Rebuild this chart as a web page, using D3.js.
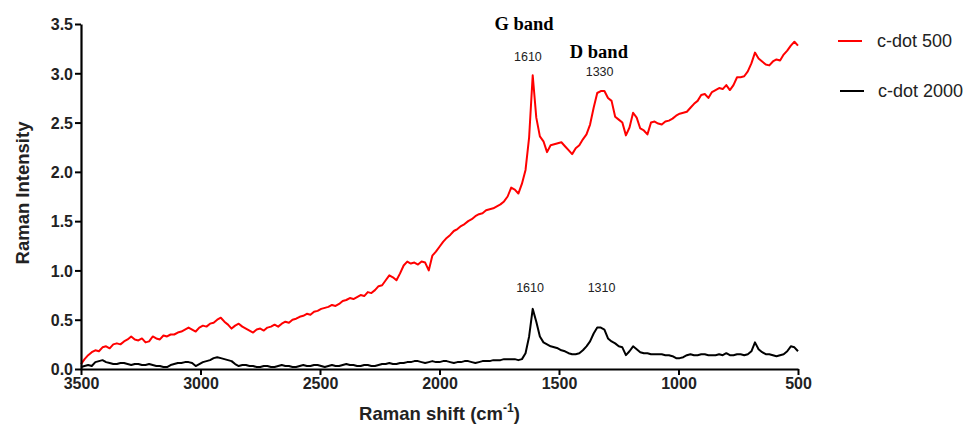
<!DOCTYPE html>
<html>
<head>
<meta charset="utf-8">
<script src="https://cdn.jsdelivr.net/npm/d3@7"></script>
<style>
  body { margin: 0; background: #fff; }
  svg { font-family: "Liberation Sans", Arial, sans-serif; }
</style>
</head>
<body>
<div id="chart"></div>
<script>
// Raman shift sampling points (cm-1), one row per 150 cm-1
const shifts = [
  3500, 3485, 3470, 3455, 3440, 3425, 3410, 3395, 3380, 3365,
  3350, 3335, 3320, 3305, 3290, 3275, 3260, 3245, 3230, 3215,
  3200, 3185, 3170, 3155, 3140, 3125, 3110, 3095, 3080, 3065,
  3050, 3035, 3020, 3005, 2990, 2975, 2960, 2945, 2930, 2915,
  2900, 2885, 2870, 2855, 2840, 2825, 2810, 2795, 2780, 2765,
  2750, 2735, 2720, 2705, 2690, 2675, 2660, 2645, 2630, 2615,
  2600, 2585, 2570, 2555, 2540, 2525, 2510, 2495, 2480, 2465,
  2450, 2435, 2420, 2405, 2390, 2375, 2360, 2345, 2330, 2315,
  2300, 2285, 2270, 2255, 2240, 2225, 2210, 2195, 2180, 2165,
  2150, 2135, 2120, 2105, 2090, 2075, 2060, 2045, 2030, 2015,
  2000, 1985, 1970, 1955, 1940, 1925, 1910, 1895, 1880, 1865,
  1850, 1835, 1820, 1805, 1790, 1775, 1760, 1745, 1730, 1715,
  1700, 1685, 1670, 1655, 1640, 1625, 1610, 1595, 1580, 1565,
  1550, 1535, 1520, 1505, 1490, 1475, 1460, 1445, 1430, 1415,
  1400, 1385, 1370, 1355, 1340, 1325, 1310, 1295, 1280, 1265,
  1250, 1235, 1220, 1205, 1190, 1175, 1160, 1145, 1130, 1115,
  1100, 1085, 1070, 1055, 1040, 1025, 1010, 995, 980, 965,
  950, 935, 920, 905, 890, 875, 860, 845, 830, 815,
  800, 785, 770, 755, 740, 725, 710, 695, 680, 665,
  650, 635, 620, 605, 590, 575, 560, 545, 530, 515,
  500];

// c-dot 500 intensities
const cdot500 = [
  0.05, 0.10, 0.14, 0.17, 0.19, 0.18, 0.22, 0.23, 0.21, 0.25,
  0.26, 0.25, 0.28, 0.30, 0.33, 0.30, 0.29, 0.31, 0.27, 0.28,
  0.33, 0.31, 0.30, 0.34, 0.33, 0.35, 0.35, 0.37, 0.38, 0.40,
  0.42, 0.40, 0.38, 0.42, 0.44, 0.43, 0.46, 0.47, 0.50, 0.52,
  0.48, 0.45, 0.41, 0.44, 0.46, 0.43, 0.41, 0.39, 0.37, 0.40,
  0.41, 0.39, 0.42, 0.43, 0.45, 0.43, 0.46, 0.48, 0.47, 0.50,
  0.51, 0.53, 0.54, 0.56, 0.55, 0.58, 0.59, 0.61, 0.62, 0.63,
  0.65, 0.64, 0.66, 0.69, 0.70, 0.72, 0.71, 0.73, 0.75, 0.74,
  0.78, 0.77, 0.80, 0.84, 0.85, 0.90, 0.95, 0.93, 0.90, 0.97,
  1.05, 1.09, 1.07, 1.08, 1.06, 1.09, 1.08, 1.00, 1.15, 1.19,
  1.24, 1.29, 1.33, 1.36, 1.40, 1.42, 1.45, 1.47, 1.50, 1.52,
  1.55, 1.57, 1.58, 1.61, 1.62, 1.63, 1.65, 1.67, 1.70, 1.75,
  1.84, 1.82, 1.78, 1.88, 2.02, 2.35, 2.98, 2.55, 2.36, 2.31,
  2.20, 2.27, 2.28, 2.29, 2.30, 2.26, 2.22, 2.18, 2.24, 2.27,
  2.33, 2.38, 2.48, 2.65, 2.80, 2.82, 2.82, 2.75, 2.72, 2.56,
  2.53, 2.50, 2.37, 2.45, 2.60, 2.55, 2.44, 2.42, 2.38, 2.50,
  2.51, 2.49, 2.48, 2.51, 2.52, 2.54, 2.57, 2.59, 2.60, 2.61,
  2.65, 2.69, 2.72, 2.78, 2.79, 2.75, 2.81, 2.83, 2.85, 2.84,
  2.88, 2.83, 2.88, 2.96, 2.96, 2.97, 3.02, 3.10, 3.21, 3.15,
  3.12, 3.09, 3.08, 3.12, 3.14, 3.13, 3.19, 3.23, 3.28, 3.32,
  3.28];

// c-dot 2000 intensities
const cdot2000 = [
  0.02, 0.03, 0.04, 0.03, 0.07, 0.08, 0.09, 0.07, 0.06, 0.05,
  0.05, 0.06, 0.06, 0.05, 0.04, 0.05, 0.05, 0.04, 0.04, 0.05,
  0.04, 0.03, 0.03, 0.02, 0.02, 0.04, 0.05, 0.06, 0.06, 0.07,
  0.07, 0.06, 0.03, 0.05, 0.07, 0.08, 0.09, 0.11, 0.12, 0.11,
  0.10, 0.09, 0.08, 0.05, 0.03, 0.04, 0.04, 0.03, 0.03, 0.02,
  0.02, 0.03, 0.03, 0.02, 0.02, 0.03, 0.04, 0.03, 0.03, 0.02,
  0.02, 0.03, 0.04, 0.03, 0.03, 0.04, 0.04, 0.03, 0.02, 0.03,
  0.04, 0.03, 0.03, 0.04, 0.05, 0.04, 0.04, 0.03, 0.03, 0.04,
  0.04, 0.03, 0.03, 0.04, 0.05, 0.05, 0.06, 0.05, 0.05, 0.06,
  0.06, 0.07, 0.07, 0.08, 0.08, 0.07, 0.06, 0.07, 0.08, 0.07,
  0.07, 0.08, 0.08, 0.07, 0.06, 0.07, 0.07, 0.08, 0.08, 0.07,
  0.06, 0.07, 0.08, 0.08, 0.08, 0.09, 0.09, 0.09, 0.10, 0.10,
  0.10, 0.10, 0.09, 0.10, 0.16, 0.33, 0.61, 0.48, 0.33, 0.27,
  0.25, 0.23, 0.22, 0.21, 0.19, 0.18, 0.16, 0.15, 0.15, 0.16,
  0.19, 0.23, 0.28, 0.36, 0.42, 0.42, 0.40, 0.31, 0.28, 0.26,
  0.23, 0.22, 0.14, 0.18, 0.23, 0.20, 0.17, 0.16, 0.16, 0.15,
  0.15, 0.15, 0.15, 0.14, 0.14, 0.13, 0.11, 0.11, 0.12, 0.14,
  0.15, 0.14, 0.14, 0.15, 0.15, 0.14, 0.14, 0.14, 0.15, 0.14,
  0.16, 0.14, 0.14, 0.15, 0.15, 0.14, 0.15, 0.18, 0.27, 0.20,
  0.17, 0.15, 0.15, 0.14, 0.13, 0.14, 0.15, 0.18, 0.23, 0.22,
  0.18];

const xTicks = [3500, 3000, 2500, 2000, 1500, 1000, 500];
const yTicks = [0, 0.5, 1.0, 1.5, 2.0, 2.5, 3.0, 3.5];

// annotation anchors in data units: [shift, intensity, text]
const peakLabels = [[1630, 3.12, "1610"], [1330, 2.97, "1330"], [1621, 0.78, "1610"], [1322, 0.78, "1310"]];
const bandLabels = [[1646, 3.44, "G band"], [1333, 3.16, "D band"]];

const series = [
  { name: "c-dot 500", values: cdot500, color: "#ff0000" },
  { name: "c-dot 2000", values: cdot2000, color: "#000000" }
];

const svgWidth = 967, svgHeight = 429;
const margin = { top: 24, right: 169, bottom: 60, left: 81 };
const width = svgWidth - margin.left - margin.right;
const height = svgHeight - margin.top - margin.bottom;

const svg = d3.select("#chart").append("svg")
  .attr("width", svgWidth)
  .attr("height", svgHeight);

const g = svg.append("g")
  .attr("transform", `translate(${margin.left},${margin.top})`);

const x = d3.scaleLinear().domain([3500, 500]).range([0, width]);
const y = d3.scaleLinear().domain([0, 3.5]).range([height, 0]);

// spectra
const line = d3.line()
  .x((d, i) => x(shifts[i]))
  .y(d => y(d));

series.forEach(s => {
  g.append("path")
    .datum(s.values)
    .attr("d", line)
    .attr("fill", "none")
    .attr("stroke", s.color)
    .attr("stroke-width", 2)
    .attr("stroke-linejoin", "round");
});

// axes
const xAxis = g.append("g")
  .attr("transform", `translate(0,${height})`)
  .call(d3.axisBottom(x).tickValues(xTicks).tickFormat(d3.format("d")).tickSize(6).tickSizeOuter(0).tickPadding(3));

const yAxis = g.append("g")
  .call(d3.axisLeft(y).tickValues(yTicks).tickFormat(d3.format(".1f")).tickSize(6).tickSizeOuter(0).tickPadding(2));

[xAxis, yAxis].forEach(a => {
  a.select(".domain").attr("stroke", "#000").attr("stroke-width", 2.2);
  a.selectAll(".tick line").attr("stroke", "#000").attr("stroke-width", 2);
  a.selectAll(".tick text")
    .attr("fill", "#222")
    .style("font-family", "'Liberation Sans', Arial, sans-serif")
    .style("font-size", "16px")
    .style("font-weight", "bold");
});
yAxis.selectAll(".tick text").attr("dy", "0.36em");

// axis titles
const xTitle = svg.append("text")
  .attr("x", margin.left + width / 2)
  .attr("y", 420)
  .attr("text-anchor", "middle")
  .attr("fill", "#222")
  .style("font-size", "18.5px")
  .style("font-weight", "bold")
  .text("Raman shift (cm");
xTitle.append("tspan").attr("dy", -8).style("font-size", "12px").text("-1");
xTitle.append("tspan").attr("dy", 8).text(")");

svg.append("text")
  .attr("transform", "translate(29,193) rotate(-90)")
  .attr("text-anchor", "middle")
  .attr("fill", "#222")
  .style("font-size", "18.5px")
  .style("font-weight", "bold")
  .text("Raman Intensity");

// band annotations
g.selectAll(".band")
  .data(bandLabels)
  .enter().append("text")
  .attr("class", "band")
  .attr("x", d => x(d[0]))
  .attr("y", d => y(d[1]))
  .attr("text-anchor", "middle")
  .style("font-family", "'Liberation Serif', 'Times New Roman', serif")
  .style("font-size", "18.5px")
  .style("font-weight", "bold")
  .text(d => d[2]);

g.selectAll(".peak")
  .data(peakLabels)
  .enter().append("text")
  .attr("class", "peak")
  .attr("x", d => x(d[0]))
  .attr("y", d => y(d[1]))
  .attr("text-anchor", "middle")
  .attr("fill", "#222")
  .style("font-size", "12.5px")
  .text(d => d[2]);

// legend
const legend = svg.append("g").attr("transform", "translate(838,41)");
series.forEach((s, i) => {
  const row = legend.append("g").attr("transform", `translate(${i * 2},${i * 50})`);
  row.append("line")
    .attr("x1", 0).attr("x2", 24)
    .attr("stroke", s.color)
    .attr("stroke-width", 2);
  row.append("text")
    .attr("x", 39 - i)
    .attr("dy", "0.36em")
    .attr("fill", "#222")
    .style("font-size", "18px")
    .text(s.name);
});
</script>
</body>
</html>
